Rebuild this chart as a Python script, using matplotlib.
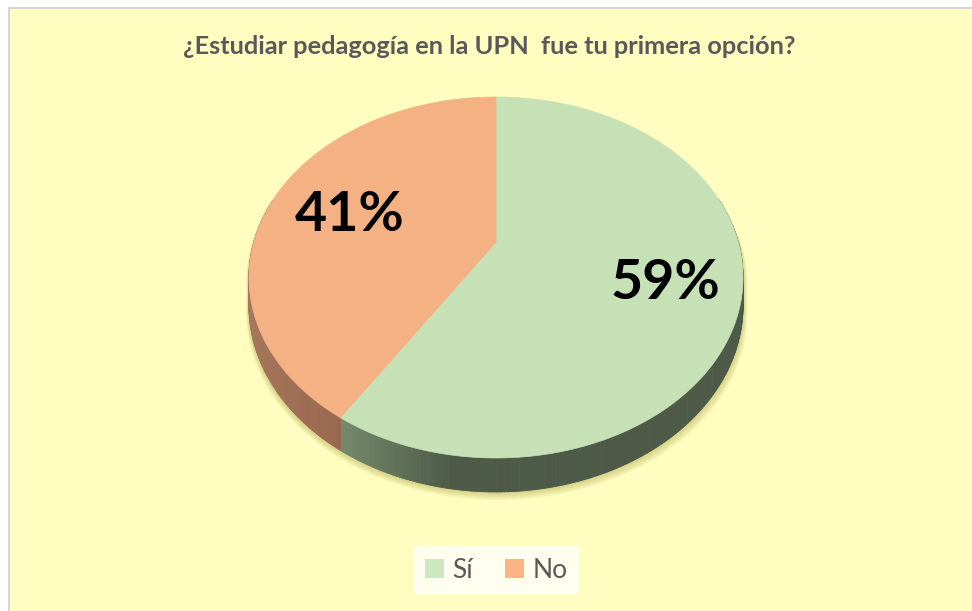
import numpy as np
import matplotlib
matplotlib.use("Agg")
import matplotlib.pyplot as plt
from matplotlib.patches import Polygon, Rectangle, Patch
from matplotlib.collections import PolyCollection
import matplotlib.colors as mcolors

# ---- data ----
title = "¿Estudiar pedagogía en la UPN  fue tu primera opción?"
categories = ["Sí", "No"]
values = [59, 41]
top_colors = ["#c5e1b5", "#f4b183"]
legend_colors = ["#cde8c0", "#fcb484"]

W, H = 972, 611
fig = plt.figure(figsize=(W / 100, H / 100), dpi=100)
fig.patch.set_facecolor("white")
ax = fig.add_axes([0, 0, 1, 1])
ax.set_xlim(0, W)
ax.set_ylim(H, 0)
ax.axis("off")

# chart area background
ax.add_patch(Rectangle((8, 7), W, H, facecolor="#d4d4d4", edgecolor="none", zorder=0))
ax.add_patch(Rectangle((9.5, 8.5), W, H, facecolor="#fffdbf", edgecolor="none", zorder=0))

# ---- perspective pie geometry ----
cx, cy0 = 496.0, 242.0
s_x, t_y, k = 242.2, 173.5, 0.1967
depth = 27.3


def rim(phi):
    """phi: angle clockwise from 12 o'clock (radians)."""
    u = np.sin(phi)
    v = np.cos(phi)
    den = 1 + k * v
    x = cx + s_x * u / den
    y = cy0 - t_y * v / den
    return x, y, den


fracs = np.array(values, dtype=float) / np.sum(values)
bounds = np.concatenate([[0], np.cumsum(fracs)]) * 2 * np.pi

# shadow (soft), mainly below the pie
phis = np.linspace(0, 2 * np.pi, 400)
xt, yt, dn = rim(phis)
yb = yt + depth / dn
sx = xt.copy()
sy = np.where(np.cos(phis) < -k, yb, yt)
wgt = np.clip((1 - np.cos(phis)) / 2, 0, 1) ** 1.5
inset = np.clip(np.cos(phis), 0, 1) * 4
for off in np.linspace(9, 1, 9):
    px = sx + (np.sin(phis) * 0.9 + 0.2) * off * wgt - np.sin(phis) * inset
    py = sy + off * 0.9 * wgt + inset
    ax.add_patch(Polygon(np.column_stack([px, py]), closed=True,
                         facecolor="#a8a045", edgecolor="none", alpha=0.06, zorder=1))

# side walls
side_base = {
    0: (mcolors.to_rgb("#738a6a"), mcolors.to_rgb("#4e5a48")),
    1: (mcolors.to_rgb("#a4765b"), mcolors.to_rgb("#9a674f")),
}
polys, cols = [], []
for i in range(len(values)):
    a0, a1 = bounds[i], bounds[i + 1]
    n = 300
    ph = np.linspace(a0, a1, n + 1)
    for j in range(n):
        p0, p1 = ph[j], ph[j + 1]
        if np.cos(p0) > 0.25 and np.cos(p1) > 0.25:
            continue
        x0, y0, d0 = rim(p0)
        x1, y1, d1 = rim(p1)
        polys.append([(x0, y0), (x1, y1), (x1, y1 + depth / d1), (x0, y0 + depth / d0)])
        light, dark = side_base[i]
        xm = 0.5 * (x0 + x1)
        if i == 0:
            x_edge = rim(a1)[0]
            tt = np.clip((xm - x_edge) / 110.0, 0, 1)
            c = tuple(np.array(light) * (1 - tt) + np.array(dark) * tt)
        else:
            x_edge = rim(a0)[0]
            tt = np.clip((x_edge - xm) / 90.0, 0, 1)
            c = tuple(np.array(dark) * (1 - tt) + np.array(light) * tt)
        cols.append(c)
pc = PolyCollection(polys, facecolors=cols, edgecolors=cols, linewidths=0.6, zorder=2)
ax.add_collection(pc)

# top faces
for i in range(len(values)):
    ph = np.linspace(bounds[i], bounds[i + 1], 300)
    x, y, _ = rim(ph)
    pts = np.vstack([[cx, cy0], np.column_stack([x, y])])
    ax.add_patch(Polygon(pts, closed=True, facecolor=top_colors[i],
                         edgecolor=top_colors[i], linewidth=0.5, zorder=3))

# percentage labels
label_pos = [(665, 283), (350, 215)]
for v, (lx, ly) in zip(values, label_pos):
    ax.text(lx, ly, f"{v}%", fontsize=40, fontweight="bold", family="Lato",
            color="black", ha="center", va="center", zorder=5)

# title
ax.text(489, 47, title, fontsize=18.3, fontweight="bold", family="Lato",
        color="#595959", ha="center", va="center", zorder=5)

# legend
handles = [Patch(facecolor=c, edgecolor="none") for c in legend_colors]
leg = fig.legend(handles, categories, loc="center", bbox_to_anchor=(496 / W, 1 - 570 / H),
                 ncol=2, frameon=True, fancybox=False,
                 handlelength=0.75, handleheight=0.75, handletextpad=0.3,
                 columnspacing=1.2, borderpad=0.45, prop={"family": "Lato", "size": 19})
leg.get_frame().set_facecolor("#fffff0")
leg.get_frame().set_edgecolor("none")
leg.get_frame().set_alpha(1)
for t in leg.get_texts():
    t.set_color("#595959")

fig.savefig("out.png", dpi=100, facecolor="white")
